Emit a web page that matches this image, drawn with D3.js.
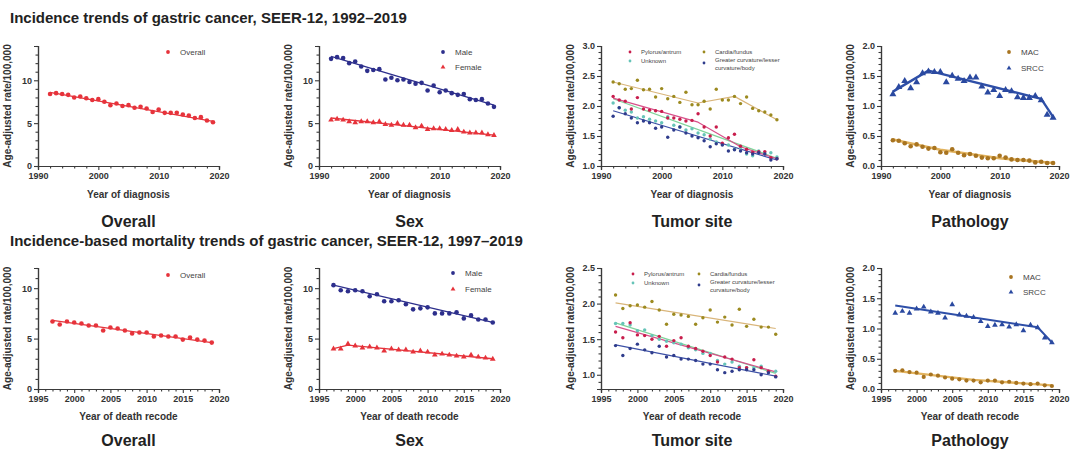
<!DOCTYPE html>
<html><head><meta charset="utf-8">
<script src="https://cdn.jsdelivr.net/npm/d3@7"></script>
<style>body{margin:0;background:#fff}svg{display:block;font-family:"Liberation Sans",Arial,sans-serif}</style>
</head><body><svg id="c" width="1073" height="450"></svg>
<script>
// ---------- DATA ----------
const incYears = [1992,1993,1994,1995,1996,1997,1998,1999,2000,2001,2002,2003,2004,2005,2006,2007,2008,2009,2010,2011,2012,2013,2014,2015,2016,2017,2018,2019];
const ibmYears = [1997,1998,1999,2000,2001,2002,2003,2004,2005,2006,2007,2008,2009,2010,2011,2012,2013,2014,2015,2016,2017,2018,2019];

const incOverall = [8.4,8.5,8.4,8.3,8.0,8.1,7.9,7.7,7.8,7.5,7.1,7.3,7.0,7.1,6.8,6.9,6.7,6.3,6.6,6.2,6.2,6.2,6.0,5.9,5.6,5.7,5.3,5.1];
const incMale    = [12.5,12.7,12.6,12.0,12.2,11.6,11.1,11.2,11.3,10.1,10.3,10.0,10.1,9.8,9.6,9.7,8.8,9.4,8.6,8.8,8.5,8.3,8.4,7.8,7.7,7.8,7.3,6.9];
const incFemale  = [5.4,5.5,5.4,5.2,5.1,5.2,5.2,5.1,5.2,4.9,4.8,5.0,4.8,4.8,4.5,4.7,4.3,4.4,4.4,4.3,4.2,4.3,4.0,3.9,3.9,3.9,3.7,3.6];
const incPylorus = [2.16,2.10,2.08,1.95,2.14,1.95,1.93,1.92,1.91,1.80,1.80,1.78,1.75,1.76,1.87,1.65,1.50,1.65,1.38,1.47,1.53,1.33,1.28,1.23,1.24,1.24,1.14,1.12];
const incCardia  = [2.40,2.37,2.28,2.29,2.43,2.27,2.28,2.15,2.29,2.12,2.16,2.06,2.23,2.02,2.02,2.08,1.95,2.28,2.10,2.10,2.16,2.04,2.15,1.96,1.92,1.90,1.85,1.77];
const incUnknown = [2.05,1.97,1.93,1.90,1.80,1.82,1.78,1.75,1.72,1.82,1.68,1.65,1.60,1.62,1.55,1.52,1.45,1.40,1.36,1.35,1.28,1.30,1.20,1.17,1.25,1.22,1.22,1.15];
const incGreater = [1.83,1.97,1.87,1.80,1.72,1.75,1.72,1.63,1.65,1.48,1.60,1.65,1.55,1.50,1.47,1.42,1.32,1.37,1.35,1.25,1.27,1.25,1.22,1.20,1.22,1.20,1.10,1.12];
const incMAC     = [0.43,0.42,0.38,0.33,0.36,0.32,0.29,0.30,0.23,0.22,0.28,0.22,0.18,0.20,0.17,0.14,0.13,0.13,0.17,0.14,0.11,0.10,0.10,0.09,0.06,0.07,0.05,0.05];
const incSRCC    = [1.20,1.32,1.42,1.30,1.40,1.55,1.58,1.57,1.57,1.40,1.51,1.46,1.42,1.48,1.48,1.33,1.23,1.27,1.17,1.27,1.25,1.15,1.14,1.14,1.17,1.10,0.86,0.81];

const ibmOverall = [6.7,6.4,6.7,6.6,6.5,6.3,6.3,5.8,6.1,6.0,5.8,5.5,5.6,5.6,5.2,5.3,5.2,5.2,4.9,5.1,4.9,4.8,4.6];
const ibmMale    = [10.3,9.8,9.7,9.8,9.7,9.2,9.4,8.7,8.7,8.8,8.4,7.9,8.0,8.1,7.5,7.5,7.5,7.6,7.0,7.3,6.9,6.9,6.6];
const ibmFemale  = [4.0,4.0,4.5,4.3,4.1,4.2,4.1,3.8,4.0,3.9,3.9,3.7,3.8,3.7,3.4,3.5,3.4,3.3,3.2,3.4,3.2,3.1,3.0];
const ibmPylorus = [1.60,1.52,1.73,1.56,1.55,1.50,1.54,1.40,1.48,1.52,1.40,1.37,1.33,1.27,1.18,1.25,1.22,1.10,1.10,1.21,1.10,1.05,0.98];
const ibmCardia  = [2.12,1.93,1.97,1.98,1.95,2.03,1.91,1.71,1.85,1.84,1.82,1.71,1.80,1.91,1.74,1.81,1.70,1.92,1.68,1.78,1.67,1.67,1.57];
const ibmUnknown = [1.72,1.72,1.70,1.62,1.63,1.55,1.50,1.47,1.45,1.43,1.38,1.35,1.30,1.30,1.20,1.15,1.18,1.12,1.10,1.10,1.12,1.05,1.05];
const ibmGreater = [1.41,1.27,1.37,1.43,1.35,1.31,1.40,1.25,1.27,1.22,1.22,1.20,1.15,1.15,1.07,1.03,1.05,1.07,1.07,1.07,1.00,1.03,0.97];
const ibmMAC     = [0.30,0.31,0.28,0.27,0.20,0.24,0.22,0.19,0.17,0.16,0.14,0.14,0.11,0.14,0.14,0.11,0.12,0.10,0.09,0.08,0.09,0.06,0.05];
const ibmSRCC    = [1.26,1.29,1.26,1.33,1.36,1.28,1.26,1.18,1.40,1.23,1.21,1.19,1.12,1.04,1.06,1.07,1.03,1.07,0.97,1.06,1.02,0.85,0.77];

// Joinpoint fitted trend lines [year, rate]
const incOverallFit = [[1992,8.6],[2019,5.2]];
const incMaleFit    = [[1992,12.8],[2019,7.1]];
const incFemaleFit  = [[1992,5.6],[2019,3.6]];
const incPylorusFit = [[1992,2.13],[2006,1.73],[2013,1.32],[2019,1.12]];
const incCardiaFit  = [[1992,2.40],[2006,2.05],[2012,2.16],[2019,1.77]];
const incUnknownFit = [[1992,2.12],[2019,1.13]];
const incGreaterFit = [[1992,1.92],[2019,1.10]];
const incMACFit     = [[1992,0.44],[2000,0.27],[2010,0.13],[2019,0.05]];
const incSRCCFit    = [[1992,1.24],[1998,1.59],[2017,1.12],[2019,0.82]];
const ibmOverallFit = [[1997,6.8],[2019,4.6]];
const ibmMaleFit    = [[1997,10.3],[2019,6.6]];
const ibmFemaleFit  = [[1997,4.0],[1999,4.35],[2019,3.0]];
const ibmPylorusFit = [[1997,1.68],[2019,1.04]];
const ibmCardiaFit  = [[1997,2.01],[2019,1.65]];
const ibmUnknownFit = [[1997,1.73],[2019,1.02]];
const ibmGreaterFit = [[1997,1.42],[2019,0.98]];
const ibmMACFit     = [[1997,0.30],[2008,0.15],[2019,0.06]];
const ibmSRCCFit    = [[1997,1.38],[2017,1.02],[2019,0.77]];

const incXTicks = [1990,2000,2010,2020];
const ibmXTicks = [1995,2000,2005,2010,2015,2020];
const yTicksRate14 = [0,5,10];
const yTicksSite = [1.0,1.5,2.0,2.5,3.0];
const yTicksPath = [0.0,0.5,1.0,1.5,2.0];
const yTicksSite2 = [1.0,1.5,2.0,2.5];

const rowTitles = ["Incidence trends of gastric cancer, SEER-12, 1992\u20132019",
                   "Incidence-based mortality trends of gastric cancer, SEER-12, 1997\u20132019"];
const panelLabels = ["Overall","Sex","Tumor site","Pathology"];
const yTitle = "Age-adjusted rate/100,000";

// ---------- STYLE ----------
const RED="#e6333b", NAVY="#2d2f8c";
const C = {
  pyl:{pt:"#c81d4c", ln:"#d8508a"}, car:{pt:"#9c8a20", ln:"#d9b57a"},
  unk:{pt:"#66c4b8", ln:"#7fd49a"}, gre:{pt:"#2f3c8c", ln:"#3c50a6"},
  mac:{pt:"#a87420", ln:"#e2b35e"}, srcc:{pt:"#2a49a0", ln:"#2e4fa8"}
};

const svg = d3.select("#c");
const cols = [{x0:38,x1:219},{x0:319,x1:500},{x0:601,x1:783},{x0:881,x1:1059}];
const rows = [
  {top:46, bot:166, xd:[1990,2020], xt:incXTicks, xminor:2, years:incYears, xTitle:"Year of diagnosis", titleY:23, xTitleY:198, labelY:227},
  {top:268, bot:389, xd:[1995,2020], xt:ibmXTicks, xminor:1, years:ibmYears, xTitle:"Year of death recode", titleY:246, xTitleY:420, labelY:446}
];

function pairs(years, vals){ return years.map((y,i)=>[y,vals[i]]); }

const panels = [
  // row 0
  {r:0,c:0,yd:[0,14],yt:yTicksRate14,ym:1,fmt:"d",
   series:[{v:incOverall,fit:incOverallFit,pt:RED,ln:RED,shape:"circle",size:2.3,lw:1.3}],
   legend:{fs:8,items:[{name:"Overall",dx:130,dy:6,pt:RED,shape:"circle"}]}},
  {r:0,c:1,yd:[0,14],yt:yTicksRate14,ym:1,fmt:"d",
   series:[{v:incMale,fit:incMaleFit,pt:NAVY,ln:NAVY,shape:"circle",size:2.3,lw:1.3},
           {v:incFemale,fit:incFemaleFit,pt:RED,ln:RED,shape:"tri",size:2.6,lw:1.3}],
   legend:{fs:8,items:[{name:"Male",dx:124,dy:6,pt:NAVY,shape:"circle"},{name:"Female",dx:124,dy:21,pt:RED,shape:"tri"}]}},
  {r:0,c:2,yd:[1,3],yt:yTicksSite,ym:0.1,fmt:".1f",
   series:[{v:incCardia,fit:incCardiaFit,pt:C.car.pt,ln:C.car.ln,shape:"circle",size:1.7,lw:1.2},
           {v:incUnknown,fit:incUnknownFit,pt:C.unk.pt,ln:C.unk.ln,shape:"circle",size:1.7,lw:1.2},
           {v:incPylorus,fit:incPylorusFit,pt:C.pyl.pt,ln:C.pyl.ln,shape:"circle",size:1.7,lw:1.2},
           {v:incGreater,fit:incGreaterFit,pt:C.gre.pt,ln:C.gre.ln,shape:"circle",size:1.7,lw:1.2}],
   legend:{fs:6,items:[{name:"Pylorus/antrum",dx:29,dy:6,pt:C.pyl.pt,shape:"circle"},
                       {name:"Unknown",dx:29,dy:15,pt:C.unk.pt,shape:"circle"},
                       {name:"Cardia/fundus",dx:103,dy:6,pt:C.car.pt,shape:"circle"},
                       {name:["Greater curvature/lesser","curvature/body"],dx:103,dy:17,pt:C.gre.pt,shape:"circle"}]}},
  {r:0,c:3,yd:[0,2],yt:yTicksPath,ym:0.1,fmt:".1f",
   series:[{v:incMAC,fit:incMACFit,pt:C.mac.pt,ln:C.mac.ln,shape:"circle",size:2.3,lw:2.6},
           {v:incSRCC,fit:incSRCCFit,pt:C.srcc.pt,ln:C.srcc.ln,shape:"tri",size:3.2,lw:2.4}],
   legend:{fs:8,items:[{name:"MAC",dx:128,dy:6,pt:C.mac.pt,shape:"circle"},{name:"SRCC",dx:128,dy:22,pt:C.srcc.pt,shape:"tri"}]}},
  // row 1
  {r:1,c:0,yd:[0,12],yt:yTicksRate14,ym:1,fmt:"d",
   series:[{v:ibmOverall,fit:ibmOverallFit,pt:RED,ln:RED,shape:"circle",size:2.3,lw:1.3}],
   legend:{fs:8,items:[{name:"Overall",dx:130,dy:7,pt:RED,shape:"circle"}]}},
  {r:1,c:1,yd:[0,12],yt:yTicksRate14,ym:1,fmt:"d",
   series:[{v:ibmMale,fit:ibmMaleFit,pt:NAVY,ln:NAVY,shape:"circle",size:2.3,lw:1.3},
           {v:ibmFemale,fit:ibmFemaleFit,pt:RED,ln:RED,shape:"tri",size:2.6,lw:1.3}],
   legend:{fs:8,items:[{name:"Male",dx:134,dy:5,pt:NAVY,shape:"circle"},{name:"Female",dx:134,dy:21,pt:RED,shape:"tri"}]}},
  {r:1,c:2,yd:[0.8,2.5],yt:yTicksSite2,ym:0.1,fmt:".1f",
   series:[{v:ibmCardia,fit:ibmCardiaFit,pt:C.car.pt,ln:C.car.ln,shape:"circle",size:1.7,lw:1.2},
           {v:ibmUnknown,fit:ibmUnknownFit,pt:C.unk.pt,ln:C.unk.ln,shape:"circle",size:1.7,lw:1.2},
           {v:ibmPylorus,fit:ibmPylorusFit,pt:C.pyl.pt,ln:C.pyl.ln,shape:"circle",size:1.7,lw:1.2},
           {v:ibmGreater,fit:ibmGreaterFit,pt:C.gre.pt,ln:C.gre.ln,shape:"circle",size:1.7,lw:1.2}],
   legend:{fs:6,items:[{name:"Pylorus/antrum",dx:32,dy:6,pt:C.pyl.pt,shape:"circle"},
                       {name:"Unknown",dx:32,dy:15,pt:C.unk.pt,shape:"circle"},
                       {name:"Cardia/fundus",dx:98,dy:6,pt:C.car.pt,shape:"circle"},
                       {name:["Greater curvature/lesser","curvature/body"],dx:98,dy:17,pt:C.gre.pt,shape:"circle"}]}},
  {r:1,c:3,yd:[0,2],yt:yTicksPath,ym:0.1,fmt:".1f",
   series:[{v:ibmMAC,fit:ibmMACFit,pt:C.mac.pt,ln:C.mac.ln,shape:"circle",size:2.1,lw:2.4},
           {v:ibmSRCC,fit:ibmSRCCFit,pt:C.srcc.pt,ln:C.srcc.ln,shape:"tri",size:2.6,lw:2.0}],
   legend:{fs:8,items:[{name:"MAC",dx:130,dy:9,pt:C.mac.pt,shape:"circle"},{name:"SRCC",dx:130,dy:24,pt:C.srcc.pt,shape:"tri"}]}}
];

function marker(g, shape, cx, cy, s, color){
  if(shape==="tri"){
    const h=s*1.9, w=s*2.2;
    g.append("path").attr("d",`M${cx},${cy-h*0.62}L${cx+w/2},${cy+h*0.38}L${cx-w/2},${cy+h*0.38}Z`).attr("fill",color);
  } else {
    g.append("circle").attr("cx",cx).attr("cy",cy).attr("r",s).attr("fill",color);
  }
}

function styleAxis(a){
  a.select(".domain").attr("stroke","#3a3a3a").attr("stroke-width",1.2);
  a.selectAll(".tick line").attr("stroke","#3a3a3a").attr("stroke-width",1.1);
  a.selectAll(".tick text").attr("fill","#333").attr("font-size",9).attr("font-weight","bold")
   .attr("font-family",'"Liberation Sans",Arial,sans-serif');
}

// row titles
rows.forEach((row,i)=>{
  svg.append("text").attr("x",10).attr("y",row.titleY).attr("font-size",15).attr("font-weight","bold")
    .attr("fill","#222").text(rowTitles[i]);
});

panels.forEach(p=>{
  const row=rows[p.r], col=cols[p.c];
  const x=d3.scaleLinear().domain(row.xd).range([col.x0,col.x1]);
  const y=d3.scaleLinear().domain(p.yd).range([row.bot,row.top]);
  const g=svg.append("g");

  // minor ticks
  const xMinor=d3.range(row.xd[0],row.xd[1]+0.001,row.xminor).filter(v=>!row.xt.includes(v));
  g.append("g").attr("transform",`translate(0,${row.bot})`)
    .call(d3.axisBottom(x).tickValues(xMinor).tickSize(2.5).tickFormat("")).call(styleAxis);
  const nMinor=Math.round((p.yd[1]-p.yd[0])/p.ym);
  const yMinor=d3.range(nMinor+1).map(i=>+(p.yd[0]+i*p.ym).toFixed(3)).filter(v=>!p.yt.some(t=>Math.abs(t-v)<1e-6));
  g.append("g").attr("transform",`translate(${col.x0},0)`)
    .call(d3.axisLeft(y).tickValues(yMinor).tickSize(2.5).tickFormat("")).call(styleAxis);
  // major axes
  g.append("g").attr("transform",`translate(0,${row.bot})`)
    .call(d3.axisBottom(x).tickValues(row.xt).tickSize(4).tickPadding(3).tickFormat(d3.format("d"))).call(styleAxis);
  g.append("g").attr("transform",`translate(${col.x0},0)`)
    .call(d3.axisLeft(y).tickValues(p.yt).tickSize(4).tickPadding(2).tickFormat(d3.format(p.fmt))).call(styleAxis);

  // axis titles
  g.append("text").attr("transform",`translate(${col.x0-27},${(row.top+row.bot)/2}) rotate(-90)`)
    .attr("text-anchor","middle").attr("font-size",10).attr("font-weight","bold").attr("fill","#333").text(yTitle);
  const cx=(col.x0+col.x1)/2;
  g.append("text").attr("x",cx).attr("y",row.xTitleY).attr("text-anchor","middle")
    .attr("font-size",10).attr("font-weight","bold").attr("fill","#333").text(row.xTitle);
  g.append("text").attr("x",cx).attr("y",row.labelY).attr("text-anchor","middle")
    .attr("font-size",16).attr("font-weight","bold").attr("fill","#222").text(panelLabels[p.c]);

  // fit lines
  const line=d3.line().x(d=>x(d[0])).y(d=>y(d[1]));
  p.series.forEach(s=>{
    g.append("path").attr("d",line(s.fit)).attr("fill","none").attr("stroke",s.ln)
      .attr("stroke-width",s.lw).attr("stroke-linejoin","round");
  });
  // points
  p.series.forEach(s=>{
    pairs(row.years,s.v).forEach(d=>marker(g,s.shape,x(d[0]),y(d[1]),s.size,s.pt));
  });

  // legend
  const L=p.legend;
  L.items.forEach(it=>{
    const lx=col.x0+it.dx, ly=row.top+it.dy;
    marker(g,it.shape,lx,ly,it.shape==="tri"?2.2:(L.fs<7?1.4:1.9),it.pt);
    const names=Array.isArray(it.name)?it.name:[it.name];
    names.forEach((nm,k)=>{
      g.append("text").attr("x",lx+(L.fs<7?11:12)).attr("y",ly+L.fs*0.35+(names.length>1?-3+k*L.fs*1.25:0))
        .attr("font-size",L.fs).attr("fill","#444").text(nm);
    });
  });
});
</script></body></html>
